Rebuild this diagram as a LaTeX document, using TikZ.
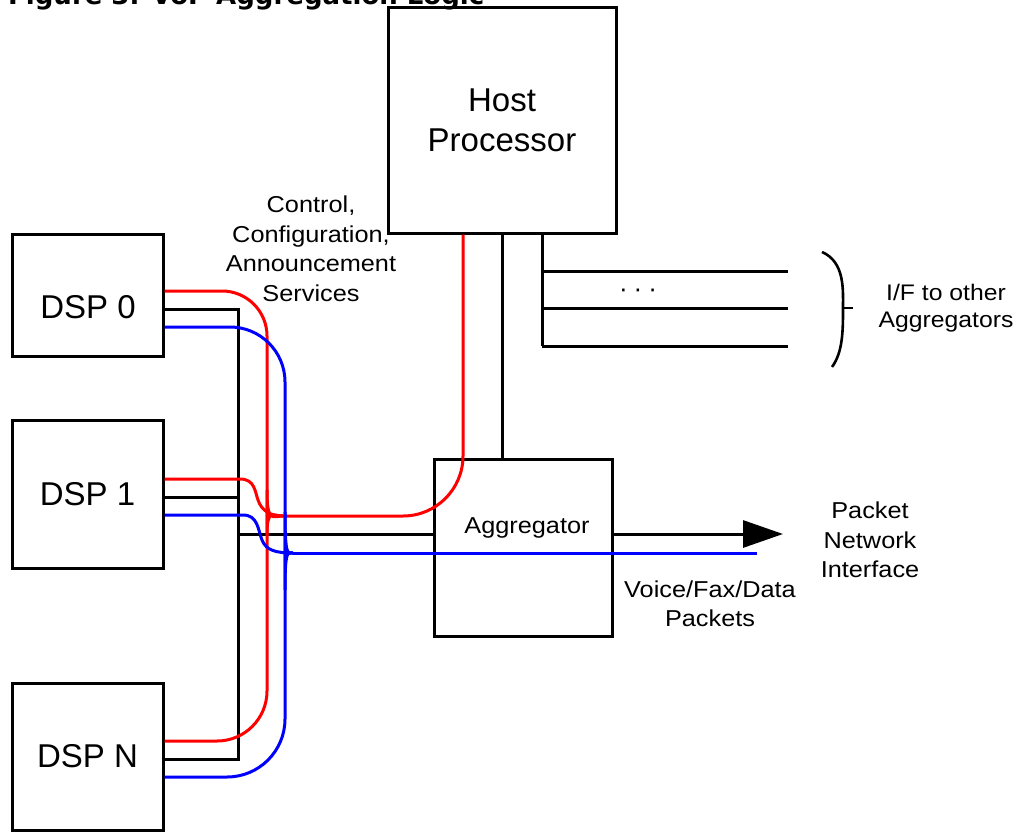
\documentclass[tikz,border=0pt]{standalone}
\usepackage{fontspec}
\setmainfont{Liberation Sans}
\newfontfamily\titlefont{DejaVu Sans}
\newfontfamily\lblfont[FakeStretch=1.1]{Liberation Sans}
\usetikzlibrary{arrows.meta,calc,positioning}

\tikzset{
  blk/.style={draw, line width=3pt, minimum width=151pt, inner sep=0pt},
  bus/.style={line width=3pt},
  redl/.style={draw=red, line width=3pt},
  bluel/.style={draw=blue, line width=3pt},
  txt/.style={font=\lblfont\fontsize{23}{29.5}\selectfont, align=center, inner sep=0pt},
  bigtxt/.style={font=\fontsize{33}{40}\selectfont, align=center, inner sep=0pt},
}

\begin{document}
\begin{tikzpicture}[x=1pt,y=-1pt]
    \useasboundingbox (0,0) rectangle (1016,832);
    \node[anchor=base west, inner sep=0pt, font=\titlefont\bfseries\fontsize{26}{30}\selectfont] (title) at (8,5) {Figure 3. VoP Aggregation Logic};

    % DSPs, host and aggregator
    \node[blk, minimum height=122pt] (dsp0) at (87.5,295) {};
    \node[bigtxt] (dsp0txt) at (88,307) {DSP 0};
    \node[blk, minimum height=148pt, bigtxt] (dsp1) at (87.5,494) {DSP 1};
    \node[blk, minimum height=147pt, bigtxt] (dspN) at (87.5,756.5) {DSP N};
    \node[blk, minimum width=228pt, minimum height=225pt, bigtxt] (host) at (502,120.5) {Host\\Processor};
    \node[blk, minimum width=178pt, minimum height=177pt] (agg) at (523,547.5) {};
    \node[txt, anchor=base] (aggtxt) at (527,533) {Aggregator};

    % black bus
    \draw[bus] ([yshift=-14pt]dsp0.east) -- (238,309) -- (238,759) -- ([yshift=-2.5pt]dspN.east);
    \draw[bus] ([yshift=-3pt]dsp1.east) -- (238,497);
    \draw[bus] (238,534) -- ([yshift=13.5pt]agg.west);
    \draw[bus, -{Triangle[length=40pt,width=27pt]}] ([yshift=13.5pt]agg.east) -- (783,534);
    \draw[bus] (host.south) -- (host.south |- agg.north);

    % I/F to the other aggregators
    \draw[bus] ($(host.south)+(40,0)$) coordinate (ifx) -- (542,346);
    \foreach \yy in {271,308,346}
        \draw[bus] (542,\yy) -- (788,\yy);
    \node[font=\fontsize{26}{28}\selectfont, inner sep=0pt] (dots) at (638,293) {\textperiodcentered\hspace{6pt}\textperiodcentered\hspace{6pt}\textperiodcentered};
    \draw[line width=2.6pt] (822,252) .. controls (845,262) and (843,290) .. (843,308) coordinate (brc)
        .. controls (843,330) and (843,352) .. (832,367);
    \draw[line width=2.6pt] (brc) -- (853,308);

    % control path (red)
    \coordinate (rj) at (283,516);
    \draw[redl, rounded corners=45pt] ([yshift=4pt]dsp0.east) -- (267,291) -- (267,490) [sharp corners] .. controls (267,508) and (273,516) .. (rj);
    \draw[redl, rounded corners=50pt] ([yshift=15.5pt]dspN.east) -- (267,741) -- (267,540) [sharp corners] .. controls (267,524) and (273,516) .. (rj);
    \draw[redl] ([yshift=15pt]dsp1.east) -- (240,479) .. controls (255,479) and (255,492) .. (258,500) .. controls (262,512) and (272,516) .. (rj);
    \draw[redl, rounded corners=60pt] (rj) -- (463,516) -- ($(host.south)+(-39,0)$);

    % packet path (blue)
    \coordinate (bj) at (293,553);
    \draw[bluel, rounded corners=55pt] ([yshift=-32pt]dsp0.east) -- (285,327) -- (285,535) [sharp corners] .. controls (285,548) and (288,553) .. (bj);
    \draw[bluel, rounded corners=58pt] ([yshift=-20.5pt]dspN.east) -- (285,777) -- (285,570) [sharp corners] .. controls (285,558) and (288,553) .. (bj);
    \draw[bluel] ([yshift=-21pt]dsp1.east) -- (243,515) .. controls (258,515) and (258,530) .. (262,540) .. controls (266,550) and (275,553) .. (bj);
    \draw[bluel] (bj) -- (757,553);

    % labels
    \node[txt] (ctl) at (311,249) {Control,\\Configuration,\\Announcement\\Services};
    \node[txt, font=\lblfont\fontsize{22.5}{27}\selectfont] (iflbl) at (946,308) {I/F to other\\Aggregators};
    \node[txt] (pni) at (870,540) {Packet\\Network\\Interface};
    \node[txt] (vfd) at (710,604) {Voice/Fax/Data\\Packets};
\end{tikzpicture}
\end{document}
